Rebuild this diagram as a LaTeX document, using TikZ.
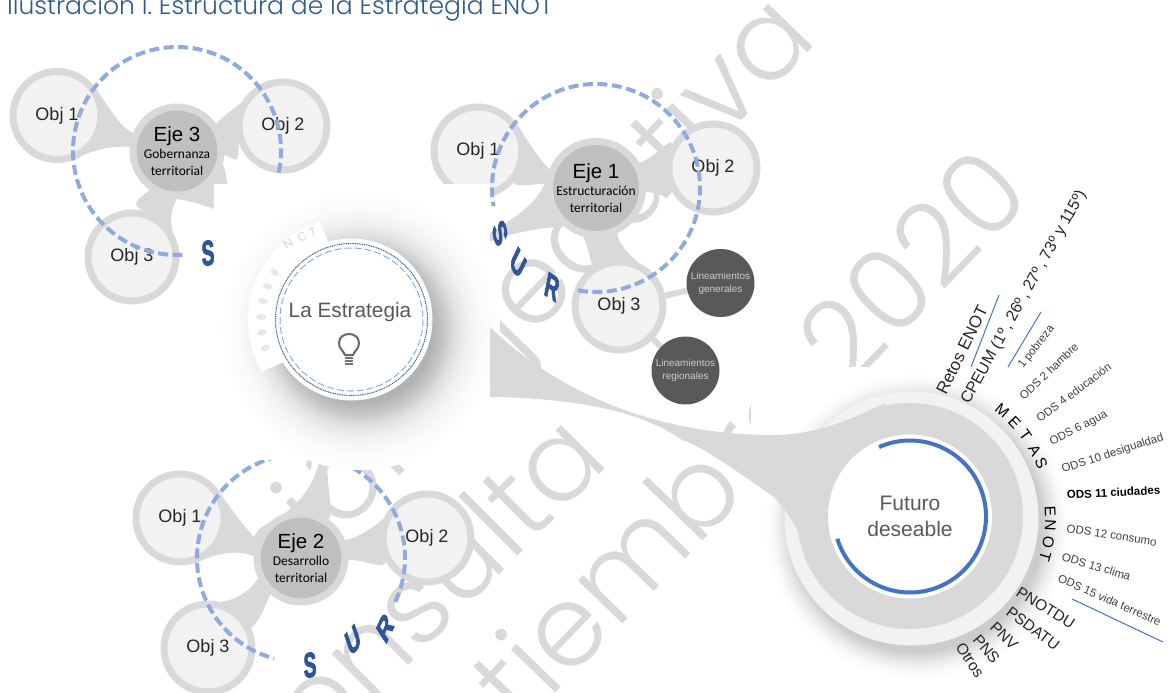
\documentclass[tikz,border=0pt]{standalone}
\usepackage{fontspec}
\setmainfont{Liberation Sans}
\newfontfamily\calfont{Carlito}
\newfontfamily\wmfont{Poppins Light}
\newfontfamily\surfont[FakeBold=3]{Liberation Sans Bold}
\usepackage{tikz}
\usetikzlibrary{calc}
\pgfdeclarelayer{wm}
\pgfdeclarelayer{links}
\pgfdeclarelayer{top}
\pgfsetlayers{wm,links,main,top}
\definecolor{gris claro}{HTML}{D9D9D9}
\definecolor{gris obj}{HTML}{F2F2F2}
\definecolor{gris eje}{HTML}{BFBFBF}
\definecolor{gris oscuro}{HTML}{595959}
\definecolor{azul guion}{HTML}{8FAADC}
\definecolor{azul linea}{HTML}{4472C4}
\definecolor{azul sur}{HTML}{2F5597}
\definecolor{azul titulo}{HTML}{2E5C8A}
\pgfdeclareradialshading{halo}{\pgfpoint{0bp}{0bp}}{
  color(0bp)=(black!30); color(13bp)=(black!30); color(15bp)=(black!22);
  color(17bp)=(black!12); color(19.5bp)=(black!5); color(22bp)=(black!2); color(25bp)=(white); color(50bp)=(white)}
\pgfdeclareradialshading{halofut}{\pgfpoint{0bp}{0bp}}{
  color(0bp)=(black!20); color(20.5bp)=(black!20); color(22bp)=(black!10);
  color(23.5bp)=(black!3); color(25bp)=(white); color(50bp)=(white)}
\tikzset{
  objnode/.style={circle, draw=gris claro, fill=gris obj, line width=7pt, minimum size=88pt,
    inner sep=0pt, font=\fontsize{18}{20}\selectfont, text=black!85},
  ejenode/.style={circle, draw=gris claro, fill=gris eje, line width=7pt, minimum size=88pt,
    inner sep=0pt, align=center, font=\fontsize{20.5}{23}\selectfont},
  lineanode/.style={circle, fill=gris oscuro, minimum size=68pt, inner sep=0pt, align=center,
    text=black!20, font=\fontsize{10}{13}\selectfont},
  link/.style={fill=gris claro},
  oline/.style={draw=gris claro, line width=6pt},
  ringdash/.style={draw=azul guion, line width=4pt, dash pattern=on 10pt off 4.5pt},
  surletter/.style={text=azul sur, font=\fontsize{35}{35}\surfont\selectfont, xscale=.55, inner sep=0pt},
  wmtext/.style={text=gris claro, font=\fontsize{113}{113}\wmfont\selectfont, inner sep=0pt, anchor=base east},
  bluerule/.style={draw=azul linea, line width=1pt},
  rayo/.style={anchor=base west, inner sep=0pt, text=black!75, font=\fontsize{11.5}{13}\selectfont},
  plano/.style={anchor=base west, inner sep=0pt, text=black!85, font=\fontsize{15.5}{17}\selectfont},
  metaletter/.style={inner sep=0pt, font=\fontsize{15.5}{15.5}\selectfont},
  fantasma/.style={text=black!16, inner sep=0pt, font=\fontsize{12}{12}\selectfont}
}
\newcommand{\subeje}[1]{{\calfont\fontsize{13.5}{17}\selectfont #1}}
\begin{document}
\begin{tikzpicture}[x=1pt, y=-1pt]
    \path[use as bounding box] (0,0) rectangle (1172,693);

    % marca de agua
    \begin{pgfonlayer}{wm}
        \node[wmtext, rotate=46] (wmver) at (820,40) {sión ejecutiva};
        \node[wmtext, rotate=45] (wmcon) at (612,462) {onsulta};
        \node[wmtext, rotate=46] (wmsep) at (1035,197) {tiembre 2020};
    \end{pgfonlayer}

    % Eje 3
    \node[objnode] (obj31) at (57,115.5) {Obj 1};
    \node[objnode] (obj32) at (283,126) {Obj 2};
    \node[objnode] (obj33) at (132,257) {Obj 3};
    \node[ejenode] (eje3) at (177,151) {Eje 3\\[-6pt]\subeje{Gobernanza}\\[-6pt]\subeje{territorial}};
    \begin{pgfonlayer}{links}
        \fill[link] (obj31.29) .. controls (110,108) and (118,125) .. (eje3.158) -- (eje3.175)
            .. controls (115,146) and (95,148) .. (obj31.-67) -- cycle;
        \fill[link] (obj32.150) .. controls (235,108) and (228,112) .. (eje3.35) -- (eje3.-5)
            .. controls (235,158) and (240,168) .. (obj32.-160) -- cycle;
        \fill[link] (obj33.65) .. controls (125,205) and (138,200) .. (eje3.-125) -- (eje3.-90)
            .. controls (168,215) and (170,228) .. (obj33.5) -- cycle;
        \fill[link] (eje3.-15) .. controls (224,168) and (228,178) .. (228,195) -- (240,215)
            -- (214,209) .. controls (195,202) and (180,199) .. (eje3.-100) -- cycle;
    \end{pgfonlayer}
    \draw[ringdash] (eje3) ++(12:104) arc[start angle=12, delta angle=-285, radius=104];
    \node[surletter, rotate=4] (s3) at (208,253) {S};

    % Eje 1
    \node[objnode] (obj11) at (478,151) {Obj 1};
    \node[objnode] (obj12) at (713,168) {Obj 2};
    \node[objnode] (obj13) at (619,306) {Obj 3};
    \node[ejenode] (eje1) at (596,188) {Eje 1\\[-6pt]\subeje{Estructuración}\\[-6pt]\subeje{territorial}};
    \node[lineanode] (gen) at (720.5,283) {Lineamientos\\generales};
    \node[lineanode] (reg) at (685.5,370.5) {Lineamientos\\regionales};
    \begin{pgfonlayer}{links}
        \fill[link] (obj11.29) .. controls (530,145) and (540,160) .. (eje1.158) -- (eje1.175)
            .. controls (535,184) and (510,188) .. (obj11.-40) -- cycle;
        \fill[link] (obj12.150) .. controls (672,135) and (655,158) .. (eje1.30) -- (eje1.-5)
            .. controls (650,190) and (665,200) .. (obj12.-150) -- cycle;
        \fill[link] (obj13.115) .. controls (590,275) and (592,255) .. (eje1.-105) -- (eje1.-65)
            .. controls (618,245) and (635,262) .. (obj13.40) -- cycle;
        \fill[link] (eje1.165) .. controls (540,205) and (510,220) .. (480,240) -- (480,246)
            .. controls (510,232) and (540,228) .. (eje1.-130) -- cycle;
        \draw[oline] (obj13) -- (gen);
        \draw[oline] (obj13) -- (reg);
    \end{pgfonlayer}
    \draw[ringdash] (eje1) ++(100:104) arc[start angle=100, delta angle=-290, radius=104];
    \node[surletter, rotate=-62] (s1) at (500,233) {S};
    \node[surletter, rotate=-42] (u1) at (518,263) {U};
    \node[surletter, rotate=-20] (r1) at (552,287) {R};

    % Eje 2
    \node[objnode] (obj21) at (180,518) {Obj 1};
    \node[objnode] (obj22) at (427,538) {Obj 2};
    \node[objnode] (obj23) at (208,648) {Obj 3};
    \node[ejenode] (eje2) at (301,558) {Eje 2\\[-6pt]\subeje{Desarrollo}\\[-6pt]\subeje{territorial}};
    \begin{pgfonlayer}{links}
        \fill[link] (obj21.28) .. controls (235,515) and (245,527) .. (eje2.158) -- (eje2.178)
            .. controls (240,550) and (220,552) .. (obj21.-65) -- cycle;
        \fill[link] (obj22.155) .. controls (380,522) and (362,537) .. (eje2.22) -- (eje2.-2)
            .. controls (365,560) and (385,570) .. (obj22.-150) -- cycle;
        \fill[link] (obj23.75) .. controls (235,600) and (250,592) .. (eje2.-155) -- (eje2.-130)
            .. controls (265,605) and (262,618) .. (obj23.25) -- cycle;
        \fill[link] (eje2.110) .. controls (295,505) and (315,490) .. (322,450) -- (327,450)
            .. controls (326,490) and (335,515) .. (eje2.55) -- cycle;
    \end{pgfonlayer}
    \draw[ringdash] (eje2) ++(25:104) arc[start angle=25, delta angle=-280, radius=104];
    \node[surletter, rotate=4] (s2) at (310,665) {S};
    \node[surletter, rotate=32] (u2) at (353,640) {U};
    \node[surletter, rotate=50] (r2) at (385,628) {R};

    \begin{pgfonlayer}{top}
        % La Estrategia
        \fill[white] (214,184) rectangle (490,460);
        \shade[shading=halo] (360,330) circle [radius=140];
        \foreach \a in {-66,-56,-46,-36,-26,-16,-6,4,14,24}
            \fill[white, rotate around={\a:(351,320)}] (248,309) rectangle (272,331);
        \foreach \a in {-32,-22,-12,-2,8,18}
            \fill[black!9, rotate around={\a:(351,320)}] (261,320) ellipse [x radius=5, y radius=3];
        \node[circle, fill=white, minimum size=162pt, inner sep=0pt] (estrategia) at (351.5,319.5) {};
        \draw[azul sur, line width=1pt, dash pattern=on 1pt off .8pt] (estrategia) circle [radius=76];
        \draw[azul guion, line width=1pt, dash pattern=on 7pt off 3pt] (estrategia) circle [radius=71.5];
        \node[inner sep=0pt, text=black!65, font=\fontsize{20.8}{22}\selectfont] (titest) at (350,312) {La Estrategia};
        \draw[black!60, line width=2pt] (345,355) .. controls (343,350) and (339,349) .. (339,343)
            .. controls (339,331) and (359,331) .. (359,343) .. controls (359,349) and (355,350) .. (353,355) -- cycle;
        \foreach \y in {358,361,364}
            \draw[black!55, line width=1.5pt] (345,\y) -- (353,\y);
        \node[fantasma, rotate=20] (gt) at (313,232) {T};
        \node[fantasma, rotate=25] (gc) at (302,237) {C};
        \node[fantasma, rotate=35] (gn) at (288,244) {N};

        % Futuro deseable
        \fill[white] (751,367) rectangle (1172,693);
        \shade[shading=halofut] (917,526) circle [radius=153];
        \node[circle, fill=gris obj, minimum size=254pt, inner sep=0pt] (fut) at (911.5,518.5) {};
        \coordinate (stemtop) at (490,327);
        \coordinate (stembot) at (490,397);
        \fill[link] (stemtop) .. controls (560,395) and (660,435) .. (773,435)
            .. controls (815,435) and (850,420) .. (885,403) -- (840,605)
            .. controls (810,570) and (805,530) .. (774,497)
            .. controls (735,470) and (700,445) .. (682,440)
            .. controls (640,410) and (570,398) .. (stembot) -- cycle;
        \node[circle, fill=gris claro, minimum size=226pt, inner sep=0pt] (futgris) at (910,516) {};
        \node[circle, fill=white, minimum size=164pt, inner sep=0pt, align=center, text=black!65,
            font=\fontsize{21}{26}\selectfont] (futblanco) at (910,516.5) {Futuro\\deseable};
        \draw[azul linea, line width=4pt] (futblanco) ++(-114:76) arc[start angle=-114, end angle=163, radius=76];

        % textos radiales
        \node[plano, rotate=64, font=\fontsize{17}{19}\selectfont] (retos) at (946,396) {Retos ENOT};
        \node[plano, rotate=61, font=\fontsize{16}{19}\selectfont] (cpeum) at (969,405) {CPEUM (1º\,, 26º\,, 27º\,, 73º y 115º)};
        \draw[bluerule] (971,367) -- (999,295);
        \draw[bluerule] (1008,367) -- (1041,312);
        \foreach \t/\px/\py/\r [count=\i] in {1 pobreza/1023/369/52, ODS 2 hambre/1024/401/44,
            ODS 4 educación/1040/423/37, ODS 6 agua/1052/446/28, ODS 10 desigualdad/1063/473/18,
            ODS 12 consumo/1066/532/-9, ODS 13 clima/1061/560/-17, ODS 15 vida terrestre/1057/581/-24}
            \node[rayo, rotate=\r] (ods\i) at (\px,\py) {\t};
        \node[rayo, rotate=3, text=black, font=\fontsize{11.5}{13}\selectfont\bfseries] (ods11) at (1067,499) {ODS 11 ciudades};
        \draw[bluerule] (1072,599) -- (1163,642);
        \foreach \t/\px/\py/\r [count=\i] in {PNOTDU/1015/595/-32, PSDATU/1005/614/-37, PNV/989/628/-45,
            PNS/972/640/-50, Otros/955/647/-56}
            \node[plano, rotate=\r] (pl\i) at (\px,\py) {\t};
        \foreach \l/\a in {M/-50,E/-43,T/-36,A/-29,S/-23}
            \node[metaletter, rotate={-(\a)-90}] (meta\l) at ($(fut)+(\a:141)$) {\l};
        \foreach \l/\a in {E/-3,N/3,O/10,T/16}
            \node[metaletter, rotate={-(\a)-90}] (enot\l) at ($(fut)+(\a:139)$) {\l};

        % titulo
        \node[anchor=base west, inner sep=0pt, text=azul titulo, font=\fontsize{25}{27}\wmfont\selectfont] (titulo) at (7,15)
            {Ilustración I. Estructura de la Estrategia ENOT};
    \end{pgfonlayer}
\end{tikzpicture}
\end{document}
